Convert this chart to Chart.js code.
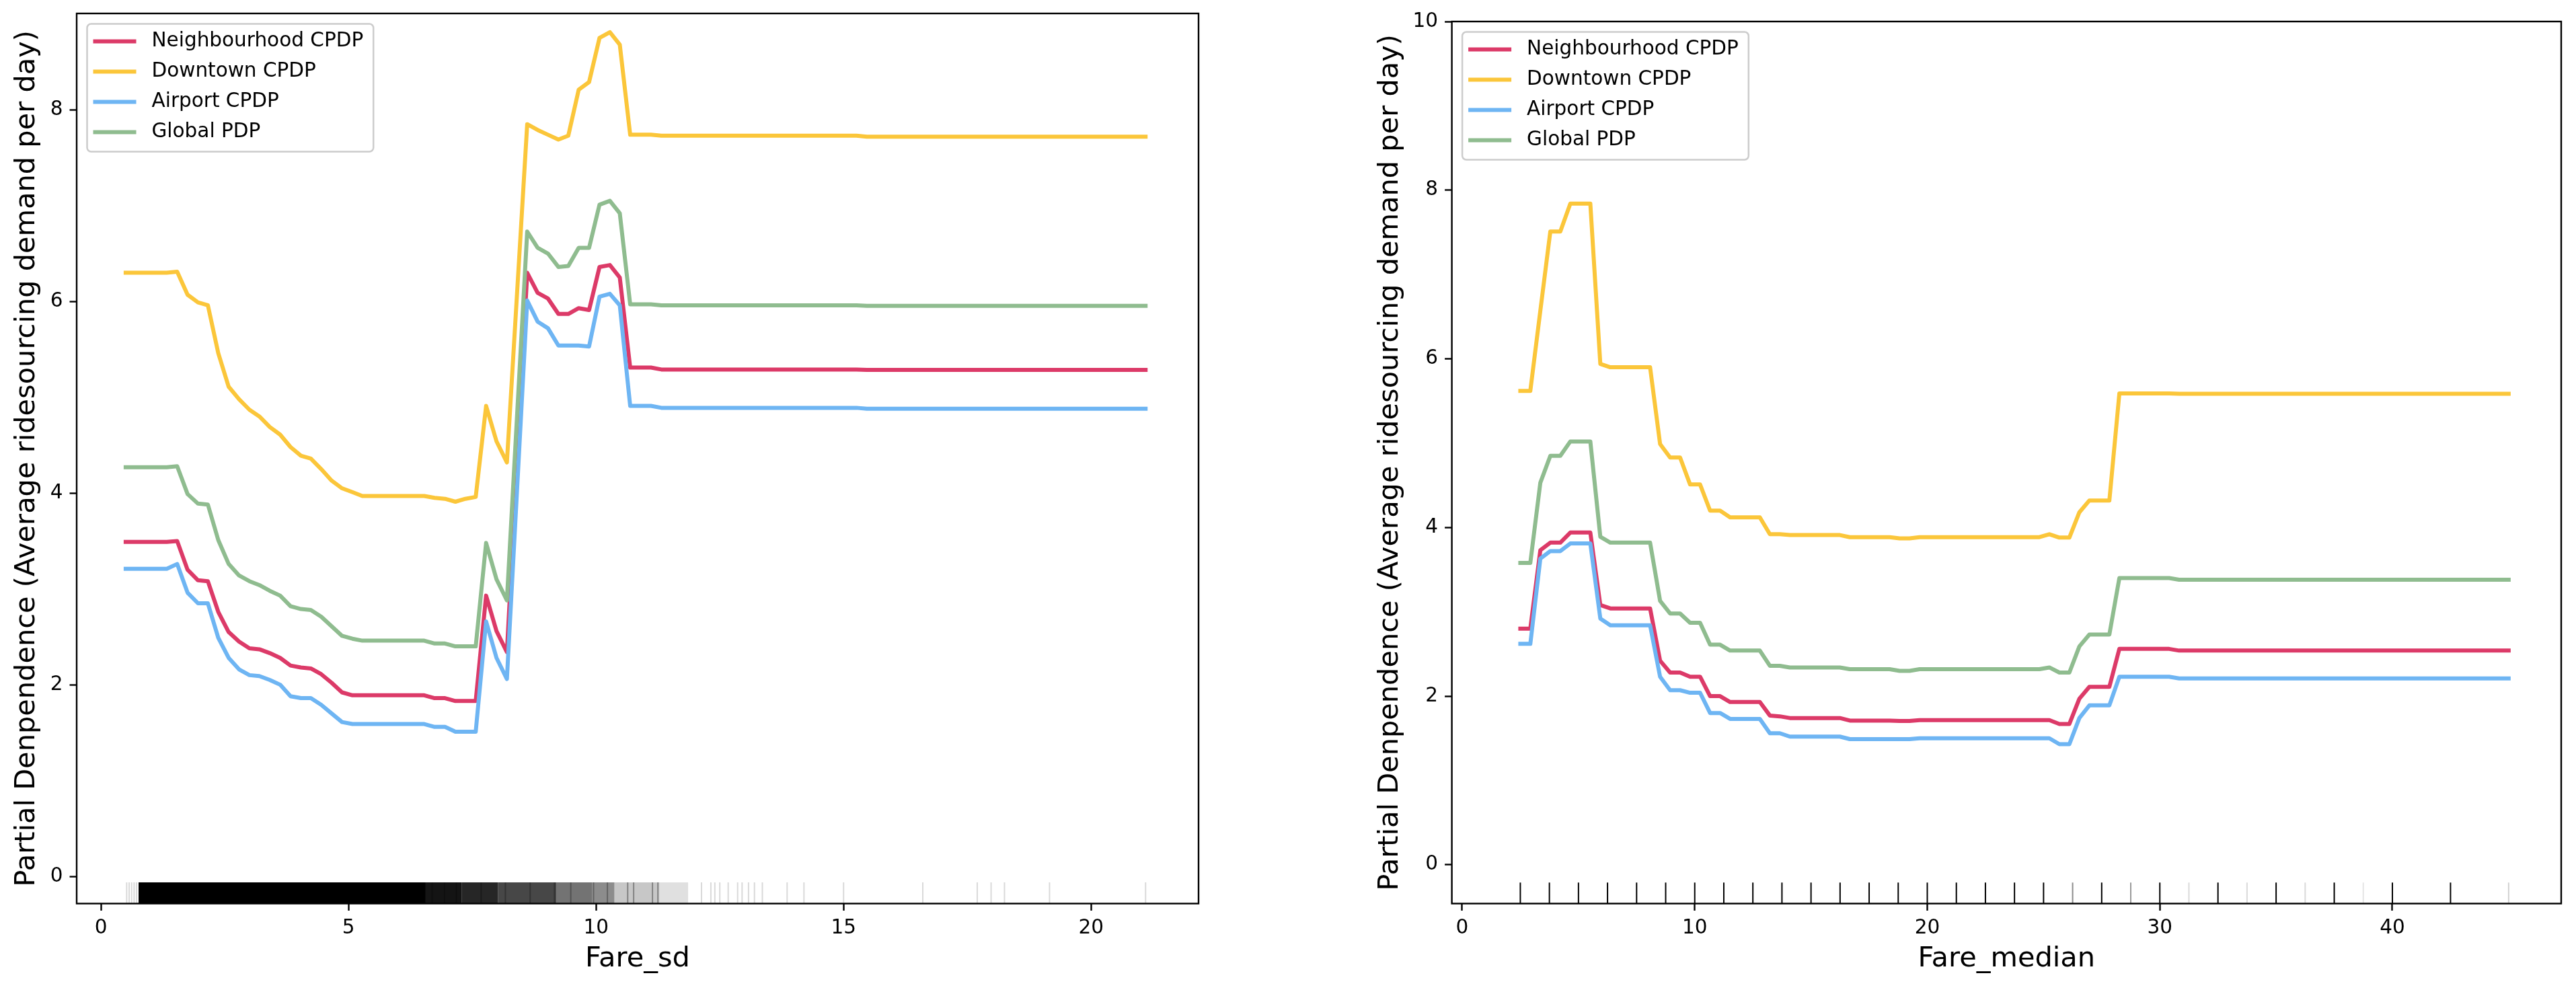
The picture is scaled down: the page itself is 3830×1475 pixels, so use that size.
<!DOCTYPE html>
<html>
<head>
<meta charset="utf-8">
<title>Partial dependence - Fare_sd / Fare_median</title>
<script src="https://cdn.jsdelivr.net/npm/chart.js@4.4.1/dist/chart.umd.min.js"></script>
<style>
  html, body { margin: 0; padding: 0; background: #fff; }
  #wrap { position: relative; width: 3830px; height: 1475px; overflow: hidden; }
  canvas { position: absolute; top: 0; }
  #leftChart { left: 0; }
  #rightChart { left: 1900px; }
</style>
</head>
<body>
<div id="wrap">
  <canvas id="leftChart" width="1900" height="1475"></canvas>
  <canvas id="rightChart" width="1930" height="1475"></canvas>
</div>
<script>
const seriesNames = ['Neighbourhood CPDP', 'Downtown CPDP', 'Airport CPDP', 'Global PDP'];
const seriesColors = ['#DC3A68', '#FBC63A', '#6EB5F3', '#8FBC8F'];

// ---- Fare_sd panel ----
const fareSdGrid = [0.50, 1.33, 1.54, 1.75, 1.96, 2.16, 2.37, 2.58, 2.79, 3.00,
  3.20, 3.41, 3.62, 3.83, 4.04, 4.24, 4.45, 4.66, 4.87, 5.08,
  5.28, 6.53, 6.74, 6.95, 7.16, 7.36, 7.57, 7.78, 7.99, 8.20,
  8.61, 8.82, 9.03, 9.24, 9.44, 9.65, 9.86, 10.07, 10.28, 10.48,
  10.69, 10.90, 11.11, 11.32, 15.26, 15.47, 21.10];
const fareSdNeighbourhood = [3.49, 3.49, 3.50, 3.20, 3.09, 3.08, 2.76, 2.55, 2.45, 2.38,
  2.37, 2.33, 2.28, 2.20, 2.18, 2.17, 2.11, 2.02, 1.92, 1.89,
  1.89, 1.89, 1.86, 1.86, 1.83, 1.83, 1.83, 2.93, 2.56, 2.34,
  6.30, 6.09, 6.03, 5.87, 5.87, 5.93, 5.91, 6.36, 6.38, 6.25,
  5.31, 5.31, 5.31, 5.29, 5.29, 5.285, 5.285];
const fareSdDowntown = [6.30, 6.30, 6.31, 6.07, 5.99, 5.96, 5.46, 5.11, 4.98, 4.87,
  4.80, 4.69, 4.61, 4.48, 4.39, 4.36, 4.25, 4.13, 4.05, 4.01,
  3.97, 3.97, 3.95, 3.94, 3.91, 3.94, 3.96, 4.91, 4.54, 4.32,
  7.85, 7.79, 7.74, 7.69, 7.73, 8.21, 8.29, 8.75, 8.81, 8.68,
  7.74, 7.74, 7.74, 7.73, 7.73, 7.72, 7.72];
const fareSdAirport = [3.21, 3.21, 3.26, 2.96, 2.85, 2.85, 2.49, 2.28, 2.16, 2.10,
  2.09, 2.05, 2.00, 1.88, 1.86, 1.86, 1.79, 1.70, 1.61, 1.59,
  1.59, 1.59, 1.56, 1.56, 1.51, 1.51, 1.51, 2.66, 2.28, 2.06,
  6.01, 5.79, 5.72, 5.54, 5.54, 5.54, 5.53, 6.05, 6.08, 5.96,
  4.91, 4.91, 4.91, 4.89, 4.89, 4.88, 4.88];
const fareSdGlobal = [4.27, 4.27, 4.28, 3.99, 3.89, 3.88, 3.51, 3.26, 3.14, 3.08,
  3.04, 2.98, 2.93, 2.82, 2.79, 2.78, 2.71, 2.61, 2.51, 2.48,
  2.46, 2.46, 2.43, 2.43, 2.40, 2.40, 2.40, 3.48, 3.10, 2.88,
  6.73, 6.56, 6.50, 6.36, 6.37, 6.56, 6.56, 7.01, 7.05, 6.92,
  5.97, 5.97, 5.97, 5.96, 5.96, 5.955, 5.955];
const fareSdTicks = [0, 5, 10, 15, 20];
const fareSdYTicks = [0, 2, 4, 6, 8];
// rug: dense stretches as [from, to, alpha], single observations as positions
const fareSdRugBands = [[0.76, 6.56, 1.0], [6.56, 7.29, 0.92], [7.29, 8.02, 0.85], [8.02, 9.2, 0.72],
  [9.2, 9.92, 0.55], [9.92, 10.37, 0.45], [10.37, 11.28, 0.22], [11.28, 11.86, 0.12]];
const fareSdRugLines = [0.52, 0.57, 0.62, 0.67, 0.72, 6.69, 6.94, 7.18, 7.68, 8.17, 8.67, 9.16, 9.49,
  9.95, 10.23, 10.64, 10.76, 11.14, 11.25, 12.13, 12.32, 12.4, 12.5, 12.67, 12.86, 12.95, 13.08, 13.2,
  13.36, 13.86, 14.2, 15.0, 16.6, 17.7, 17.98, 18.25, 19.16, 21.1];
const fareSdRugAlpha = [0.15, 0.15, 0.15, 0.15, 0.15, 0.3, 0.3, 0.3, 0.3, 0.3, 0.3, 0.3, 0.3,
  0.3, 0.3, 0.35, 0.35, 0.35, 0.35, 0.15, 0.15, 0.15, 0.15, 0.15, 0.15, 0.15, 0.15, 0.15,
  0.15, 0.15, 0.15, 0.15, 0.15, 0.15, 0.15, 0.15, 0.15, 0.15];

// ---- Fare_median panel ----
const fareMedianGrid = [2.50, 2.93, 3.36, 3.79, 4.22, 4.65, 5.51, 5.94, 6.37, 8.08,
  8.51, 8.94, 9.37, 9.80, 10.23, 10.66, 11.09, 11.52, 12.80, 13.23,
  13.66, 14.09, 16.24, 16.67, 18.38, 18.81, 19.24, 19.67, 24.82, 25.25,
  25.68, 26.11, 26.54, 26.97, 27.83, 28.26, 30.40, 30.83, 45.00];
const fareMedianNeighbourhood = [2.80, 2.80, 3.73, 3.82, 3.82, 3.94, 3.94, 3.08, 3.04, 3.04,
  2.42, 2.28, 2.28, 2.23, 2.23, 2.00, 2.00, 1.93, 1.93, 1.77,
  1.76, 1.74, 1.74, 1.71, 1.71, 1.705, 1.705, 1.715, 1.715, 1.715,
  1.67, 1.67, 1.97, 2.11, 2.11, 2.56, 2.56, 2.54, 2.54];
const fareMedianDowntown = [5.62, 5.62, 6.57, 7.51, 7.51, 7.84, 7.84, 5.94, 5.90, 5.90,
  4.99, 4.83, 4.83, 4.51, 4.51, 4.20, 4.20, 4.12, 4.12, 3.92,
  3.92, 3.91, 3.91, 3.885, 3.885, 3.87, 3.87, 3.885, 3.885, 3.92,
  3.88, 3.88, 4.18, 4.32, 4.32, 5.59, 5.59, 5.585, 5.585];
const fareMedianAirport = [2.62, 2.62, 3.63, 3.72, 3.72, 3.81, 3.81, 2.92, 2.84, 2.84,
  2.23, 2.07, 2.07, 2.04, 2.04, 1.80, 1.80, 1.73, 1.73, 1.56,
  1.56, 1.52, 1.52, 1.49, 1.49, 1.49, 1.49, 1.50, 1.50, 1.50,
  1.43, 1.43, 1.74, 1.89, 1.89, 2.23, 2.23, 2.21, 2.21];
const fareMedianGlobal = [3.58, 3.58, 4.53, 4.85, 4.85, 5.02, 5.02, 3.89, 3.82, 3.82,
  3.13, 2.98, 2.98, 2.87, 2.87, 2.61, 2.61, 2.54, 2.54, 2.36,
  2.36, 2.34, 2.34, 2.32, 2.32, 2.30, 2.30, 2.32, 2.32, 2.34,
  2.28, 2.28, 2.59, 2.73, 2.73, 3.40, 3.40, 3.38, 3.38];
const fareMedianTicks = [0, 10, 20, 30, 40];
const fareMedianYTicks = [0, 2, 4, 6, 8, 10];
const fareMedianRugLines = [2.5, 3.75, 5, 6.25, 7.5, 8.75, 10, 11.25, 12.5, 13.75, 15, 16.25,
  17.5, 18.75, 20, 21.25, 22.5, 23.75, 25, 26.25, 27.5, 28.75, 30, 31.25, 32.5, 33.75,
  35, 36.25, 37.5, 38.75, 40, 42.5, 45];
const fareMedianRugAlpha = [1, 1, 1, 1, 1, 1, 1, 1, 1, 1, 1, 1,
  1, 1, 1, 1, 1, 1, 1, 0.45, 1, 0.4, 1, 0.15, 1, 0.15,
  1, 0.15, 1, 0.1, 1, 1, 0.18];

const yTitle = 'Partial Denpendence (Average ridesourcing demand per day)';
const FONT = '"DejaVu Sans", "Liberation Sans", sans-serif';

function toPoints(xs, ys) {
  return xs.map((x, i) => ({x: x, y: ys[i]}));
}

// draws rug, full axes frame and a matplotlib-like legend
function panelPlugin(rugBands, rugLines, rugAlpha) {
  return {
    id: 'panelDecor',
    beforeDatasetsDraw(chart) {
      const ctx = chart.ctx;
      const a = chart.chartArea;
      const xs = chart.scales.x;
      const h = (a.bottom - a.top) * 0.0238;
      ctx.save();
      rugBands.forEach(b => {
        const p = xs.getPixelForValue(b[0]);
        const q = xs.getPixelForValue(b[1]);
        ctx.fillStyle = 'rgba(0,0,0,' + b[2] + ')';
        ctx.fillRect(p, a.bottom - h, q - p, h);
      });
      ctx.lineWidth = 2;
      rugLines.forEach((v, i) => {
        const p = xs.getPixelForValue(v);
        ctx.strokeStyle = 'rgba(0,0,0,' + rugAlpha[i] + ')';
        ctx.beginPath();
        ctx.moveTo(p, a.bottom);
        ctx.lineTo(p, a.bottom - h);
        ctx.stroke();
      });
      ctx.restore();
    },
    afterDatasetsDraw(chart) {
      const ctx = chart.ctx;
      const a = chart.chartArea;
      ctx.save();
      ctx.strokeStyle = '#000';
      ctx.lineWidth = 2.4;
      ctx.strokeRect(a.left, a.top, a.right - a.left, a.bottom - a.top);

      // legend
      ctx.font = '29.5px ' + FONT;
      const textW = Math.max(...seriesNames.map(n => ctx.measureText(n).width));
      const bx = a.left + 15.5, by = a.top + 15.5;
      const bw = 9 + 87 + textW + 15, bh = 190;
      ctx.beginPath();
      ctx.roundRect(bx, by, bw, bh, 6);
      ctx.fillStyle = 'rgba(255,255,255,0.8)';
      ctx.fill();
      ctx.strokeStyle = '#cccccc';
      ctx.lineWidth = 2.5;
      ctx.stroke();
      seriesNames.forEach((name, i) => {
        const ry = by + 26 + i * 45;
        ctx.strokeStyle = seriesColors[i];
        ctx.lineWidth = 6;
        ctx.lineCap = 'butt';
        ctx.beginPath();
        ctx.moveTo(bx + 9, ry);
        ctx.lineTo(bx + 73, ry);
        ctx.stroke();
        ctx.fillStyle = '#000';
        ctx.textBaseline = 'middle';
        ctx.textAlign = 'left';
        ctx.fillText(name, bx + 96, ry);
      });
      ctx.restore();
    }
  };
}

function makePanel(id, opts) {
  const datasets = opts.series.map((ys, i) => ({
    label: seriesNames[i],
    data: toPoints(opts.grid, ys),
    borderColor: seriesColors[i],
    borderWidth: 6,
    borderJoinStyle: 'round',
    borderCapStyle: 'square',
    pointRadius: 0,
    tension: 0,
    fill: false,
    order: 4 - i
  }));
  const tickFont = {family: FONT, size: 29.5};
  const titleFont = {family: FONT, size: 41.5};
  return new Chart(document.getElementById(id), {
    type: 'line',
    data: {datasets: datasets},
    options: {
      responsive: false,
      animation: false,
      devicePixelRatio: 1,
      events: [],
      layout: {padding: {left: 0, top: opts.top, right: opts.right, bottom: 0}},
      plugins: {legend: {display: false}, tooltip: {enabled: false}},
      scales: {
        x: {
          type: 'linear',
          min: opts.xMin, max: opts.xMax,
          border: {display: false},
          grid: {drawOnChartArea: false, drawTicks: true, tickLength: 10.5, tickWidth: 2.4, tickColor: '#000'},
          ticks: {font: tickFont, color: '#000', padding: 9, maxRotation: 0, autoSkip: false},
          title: {display: true, text: opts.xTitle, font: titleFont, color: '#000', padding: {top: 0, bottom: 23.5}},
          afterBuildTicks: s => { s.ticks = opts.xTicks.map(v => ({value: v})); },
          afterFit: s => { s.height = 131.5; s.paddingLeft = 0; s.paddingRight = 0; s.paddingTop = 0; s.paddingBottom = 0; }
        },
        y: {
          min: opts.yMin, max: opts.yMax,
          border: {display: false},
          grid: {drawOnChartArea: false, drawTicks: true, tickLength: 10.5, tickWidth: 2.4, tickColor: '#000'},
          ticks: {font: tickFont, color: '#000', padding: 10},
          title: {display: true, text: yTitle, font: titleFont, color: '#000', padding: {top: opts.yTitlePad, bottom: 0}},
          afterBuildTicks: s => { s.ticks = opts.yTicks.map(v => ({value: v})); },
          afterFit: s => { s.width = opts.yWidth; s.paddingLeft = 0; s.paddingRight = 0; s.paddingTop = 0; s.paddingBottom = 0; }
        }
      }
    },
    plugins: [panelPlugin(opts.rugBands, opts.rugLines, opts.rugAlpha)]
  });
}

makePanel('leftChart', {
  grid: fareSdGrid,
  series: [fareSdNeighbourhood, fareSdDowntown, fareSdAirport, fareSdGlobal],
  xMin: -0.49, xMax: 22.17, yMin: -0.284, yMax: 9.006,
  xTicks: fareSdTicks, yTicks: fareSdYTicks,
  xTitle: 'Fare_sd',
  top: 20, right: 118, yWidth: 114, yTitlePad: 15,
  rugBands: fareSdRugBands, rugLines: fareSdRugLines, rugAlpha: fareSdRugAlpha
});

makePanel('rightChart', {
  grid: fareMedianGrid,
  series: [fareMedianNeighbourhood, fareMedianDowntown, fareMedianAirport, fareMedianGlobal],
  xMin: -0.445, xMax: 47.26, yMin: -0.46, yMax: 10,
  xTicks: fareMedianTicks, yTicks: fareMedianYTicks,
  xTitle: 'Fare_median',
  top: 32, right: 22, yWidth: 258.6, yTitlePad: 142,
  rugBands: [], rugLines: fareMedianRugLines, rugAlpha: fareMedianRugAlpha
});
</script>
</body>
</html>
